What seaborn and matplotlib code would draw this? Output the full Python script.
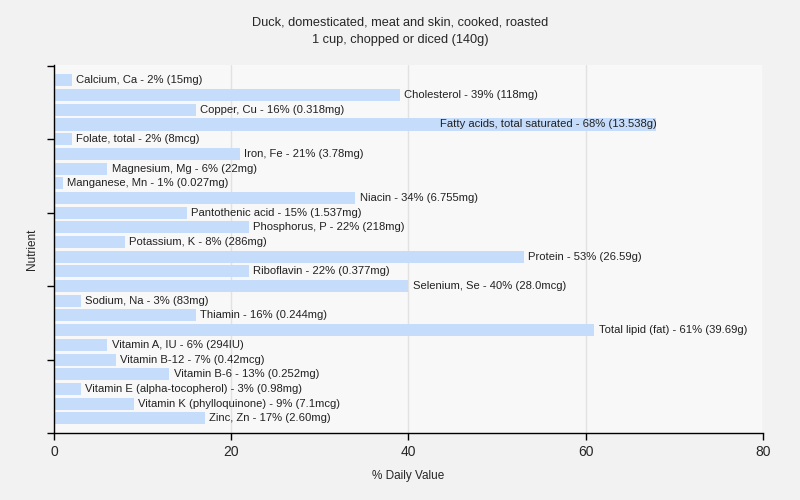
import matplotlib
matplotlib.use("Agg")
import matplotlib.pyplot as plt
import seaborn as sns
import pandas as pd

nutrients = ["Calcium, Ca", "Cholesterol", "Copper, Cu", "Fatty acids, total saturated",
             "Folate, total", "Iron, Fe", "Magnesium, Mg", "Manganese, Mn", "Niacin",
             "Pantothenic acid", "Phosphorus, P", "Potassium, K", "Protein", "Riboflavin",
             "Selenium, Se", "Sodium, Na", "Thiamin", "Total lipid (fat)", "Vitamin A, IU",
             "Vitamin B-12", "Vitamin B-6", "Vitamin E (alpha-tocopherol)",
             "Vitamin K (phylloquinone)", "Zinc, Zn"]
daily_pct = [2, 39, 16, 68, 2, 21, 6, 1, 34, 15, 22, 8, 53, 22, 40, 3, 16, 61, 6, 7, 13, 3, 9, 17]
amounts = ["15mg", "118mg", "0.318mg", "13.538g", "8mcg", "3.78mg", "22mg", "0.027mg",
           "6.755mg", "1.537mg", "218mg", "286mg", "26.59g", "0.377mg", "28.0mcg", "83mg",
           "0.244mg", "39.69g", "294IU", "0.42mcg", "0.252mg", "0.98mg", "7.1mcg", "2.60mg"]
x_ticks = [0, 20, 40, 60, 80]

df = pd.DataFrame({"Nutrient": nutrients, "pct": daily_pct, "amt": amounts})

sns.set_style("white")
plt.rcParams['font.family'] = ['Liberation Sans', 'DejaVu Sans']

fig = plt.figure(figsize=(8, 5), dpi=100, facecolor="#f2f2f2")
ax = fig.add_axes([0.0675, 0.134, 0.886, 0.736])
ax.set_facecolor("#f8f8f8")

sns.barplot(data=df, y="Nutrient", x="pct", orient="h", color="#c5dcfa",
            saturation=1, width=0.82, linewidth=0, ax=ax, zorder=2)

ax.set_xlim(0, 80)
ax.set_ylim(23.95, -1.05)
ax.set_xticks(x_ticks)
ax.set_xticklabels([str(t) for t in x_ticks], fontsize=10)
ax.set_yticks([-1, 4, 9, 14, 19, 24])
ax.set_yticklabels([])
ax.tick_params(axis="both", direction="out", length=5, width=1, color="black", left=True, bottom=True)
ax.grid(axis="x", color="#e2e2e2", linewidth=1, zorder=0)
ax.grid(axis="y", visible=False)
for s in ["top", "right"]:
    ax.spines[s].set_visible(False)
for s in ["left", "bottom"]:
    ax.spines[s].set_color("black")
    ax.spines[s].set_linewidth(1)

ax.set_xlabel("% Daily Value", fontsize=8.5, labelpad=8)
ax.set_ylabel("Nutrient", fontsize=8.5, labelpad=3)

fig.text(0.5, 0.955, "Duck, domesticated, meat and skin, cooked, roasted", ha="center", va="center", fontsize=9.2)
fig.text(0.5, 0.92, "1 cup, chopped or diced (140g)", ha="center", va="center", fontsize=9.2)

fig.canvas.draw()
renderer = fig.canvas.get_renderer()
ax_right = ax.get_window_extent(renderer).x1
for i, (n, p, a) in enumerate(zip(nutrients, daily_pct, amounts)):
    label = f"{n} - {p}% ({a})"
    t = ax.text(p + 0.5, i, label, ha="left", va="center", fontsize=8.1, color="#222222", zorder=3)
    ext = t.get_window_extent(renderer)
    if ext.x1 > ax_right:
        t.set_position((p, i))
        t.set_ha("right")

fig.savefig("out.png", dpi=100, facecolor=fig.get_facecolor())
